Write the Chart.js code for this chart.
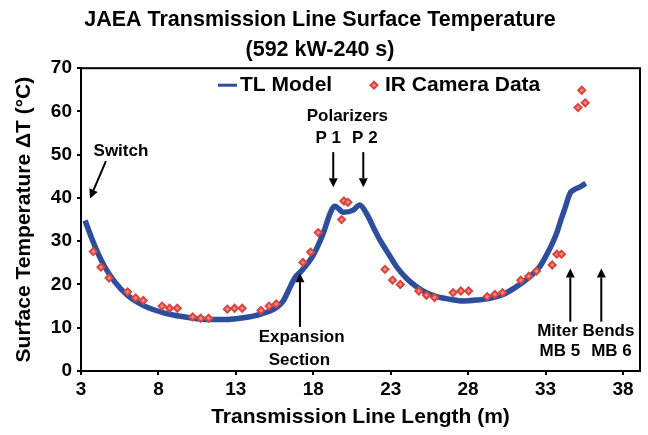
<!DOCTYPE html>
<html>
<head>
<meta charset="utf-8">
<script src="https://cdn.jsdelivr.net/npm/chart.js@4/dist/chart.umd.min.js"></script>
<style>
html,body{margin:0;padding:0;background:#fff;}
#wrap{width:648px;height:435px;}
</style>
</head>
<body>
<div id="wrap"><canvas id="c" width="648" height="435"></canvas></div>
<script>
// ---- data ----
const titleLines = ['JAEA Transmission Line Surface Temperature', '(592 kW-240 s)'];
const xAxisTitle = 'Transmission Line Length (m)';
const yAxisTitle = 'Surface Temperature \u0394T (\u00B0C)';
const xTickValues = [3, 8, 13, 18, 23, 28, 33, 38];
const yTickValues = [0, 10, 20, 30, 40, 50, 60, 70];

const tlLabel = 'TL Model';
const tlX = [3.26,3.66,4.1,4.53,5.18,6.03,7.11,8.4,9.5,10.5,11.5,12.4,13.48,14.56,15.63,16.06,16.49,16.82,17.25,18.0,18.64,19.18,19.4,19.61,19.93,20.58,21.0,21.44,21.87,22.3,22.84,23.38,24.03,24.67,25.31,25.96,26.82,27.68,28.54,29.4,30.26,31.13,31.99,32.6,33.06,33.4,33.71,34.0,34.25,34.57,34.89,35.2,35.6];
const tlY = [34.8,31.0,27.2,24.1,20.6,17.4,15.0,13.4,12.6,12.1,11.9,11.9,12.3,13.1,14.7,16.2,19.3,21.6,23.2,26.8,31.8,37.2,38.1,37.6,36.7,37.2,38.4,36.4,33.3,30.3,27.2,24.1,21.4,19.5,18.1,17.2,16.6,16.2,16.4,16.8,17.7,19.5,21.8,24.0,26.8,29.2,31.8,35.0,37.6,41.0,42.0,42.5,43.4];

const irLabel = 'IR Camera Data';
const irX = [3.79,4.29,4.81,6.01,6.53,7.02,8.23,8.72,9.22,10.21,10.73,11.24,12.45,12.92,13.41,14.62,15.14,15.61,17.33,17.83,18.32,19.83,19.98,20.24,22.63,23.12,23.62,24.82,25.31,25.83,27.03,27.53,28.03,29.23,29.73,30.22,31.4,31.92,32.42,33.43,33.73,34.03,35.1,35.34,35.56];
const irY = [27.6,24.0,21.5,18.3,16.9,16.3,15.0,14.5,14.5,12.5,12.2,12.2,14.3,14.5,14.5,14.0,15.0,15.5,25.1,27.5,32.0,35.0,39.3,39.0,23.5,21.0,20.0,18.5,17.5,17.0,18.1,18.5,18.5,17.2,17.7,18.1,21.0,21.9,23.1,24.5,27.0,27.0,60.9,64.9,62.0];

// annotation labels (data coordinates)
const noteText = ['Switch','Polarizers','P 1','P 2','Expansion','Section','Miter Bends','MB 5','MB 6'];
const noteX    = [5.58, 20.2, 18.97, 21.33, 17.25, 17.1, 35.6, 33.92, 37.26];
const noteY    = [50.9, 58.9, 53.9, 53.9, 7.7, 2.5, 9.1, 4.5, 4.5];
// arrows: tail -> tip (data coordinates)
const arrowX0 = [4.61, 19.29, 21.23, 17.14, 34.6, 36.6];
const arrowY0 = [48.5, 50.6, 50.6, 10.2, 11.4, 11.4];
const arrowX1 = [3.58, 19.29, 21.23, 17.14, 34.6, 36.6];
const arrowY1 = [39.9, 42.5, 42.5, 22.6, 23.7, 23.7];

// ---- styles ----
const FONT = '"Liberation Sans", Arial, sans-serif';
const BLUE = '#2d4e9c';
const RED = '#d9453e';

const toXY = (xs, ys) => xs.map((x, i) => ({x: x, y: ys[i]}));

const overlay = {
  id: 'overlay',
  afterDatasetsDraw(chart) {
    const {ctx, chartArea: a, scales: {x, y}} = chart;
    ctx.save();
    // frame
    ctx.strokeStyle = '#000';
    ctx.lineWidth = 2;
    ctx.strokeRect(a.left, a.top, a.right - a.left, a.bottom - a.top);
    // annotation texts
    ctx.fillStyle = '#000';
    ctx.font = 'bold 17px ' + FONT;
    ctx.textAlign = 'center';
    ctx.textBaseline = 'middle';
    noteText.forEach((t, i) => ctx.fillText(t, x.getPixelForValue(noteX[i]), y.getPixelForValue(noteY[i])));
    // arrows
    ctx.lineWidth = 2;
    arrowX0.forEach((_, i) => {
      const x0 = x.getPixelForValue(arrowX0[i]), y0 = y.getPixelForValue(arrowY0[i]);
      const x1 = x.getPixelForValue(arrowX1[i]), y1 = y.getPixelForValue(arrowY1[i]);
      const ang = Math.atan2(y1 - y0, x1 - x0);
      const hl = 9, hw = 4.5;
      const bx = x1 - hl * Math.cos(ang), by = y1 - hl * Math.sin(ang);
      ctx.beginPath();
      ctx.moveTo(x0, y0);
      ctx.lineTo(bx, by);
      ctx.stroke();
      ctx.beginPath();
      ctx.moveTo(x1, y1);
      ctx.lineTo(bx + hw * Math.sin(ang), by - hw * Math.cos(ang));
      ctx.lineTo(bx - hw * Math.sin(ang), by + hw * Math.cos(ang));
      ctx.closePath();
      ctx.fill();
    });
    // legend
    const ly = a.top + 17;
    const lx = a.left + 137;
    ctx.strokeStyle = BLUE;
    ctx.lineWidth = 3;
    ctx.beginPath();
    ctx.moveTo(lx, ly);
    ctx.lineTo(lx + 19, ly);
    ctx.stroke();
    ctx.font = 'bold 21px ' + FONT;
    ctx.textAlign = 'left';
    ctx.fillStyle = '#000';
    ctx.fillText(chart.data.datasets[0].label, lx + 22, ly);
    const dx = a.left + 293;
    ctx.fillStyle = '#ef8a84';
    ctx.strokeStyle = RED;
    ctx.lineWidth = 2;
    ctx.beginPath();
    ctx.moveTo(dx, ly - 3.5); ctx.lineTo(dx + 3.5, ly); ctx.lineTo(dx, ly + 3.5); ctx.lineTo(dx - 3.5, ly); ctx.closePath();
    ctx.fill(); ctx.stroke();
    ctx.fillStyle = '#000';
    ctx.fillText(chart.data.datasets[1].label, a.left + 304, ly);
    ctx.restore();
  }
};

new Chart(document.getElementById('c'), {
  type: 'scatter',
  data: {
    datasets: [
      {
        label: tlLabel,
        type: 'line',
        data: toXY(tlX, tlY),
        borderColor: BLUE,
        borderWidth: 5.5,
        pointRadius: 0,
        cubicInterpolationMode: 'monotone',
        fill: false,
        order: 2
      },
      {
        label: irLabel,
        data: toXY(irX, irY),
        pointStyle: 'rectRot',
        pointRadius: 3.5,
        pointBackgroundColor: '#ef8a84',
        pointBorderColor: RED,
        pointBorderWidth: 2,
        order: 1
      }
    ]
  },
  options: {
    responsive: false,
    animation: false,
    devicePixelRatio: 1,
    layout: {padding: {left: 0, right: 8, top: 0, bottom: 0}},
    plugins: {
      legend: {display: false},
      tooltip: {enabled: false},
      title: {
        display: true,
        text: titleLines,
        color: '#000',
        font: {family: FONT, size: 21.5, weight: 'bold', lineHeight: 1.4},
        padding: {top: 5, bottom: 3}
      }
    },
    scales: {
      x: {
        type: 'linear',
        min: 3,
        max: 39.1,
        afterFit: s => { s.height = 64; },
        afterBuildTicks: s => { s.ticks = xTickValues.map(v => ({value: v})); },
        grid: {display: true, drawOnChartArea: false, drawTicks: true, tickLength: 4, color: '#000', lineWidth: 2},
        border: {display: true, color: '#000', width: 2},
        ticks: {color: '#000', font: {family: FONT, size: 19, weight: 'bold'}, padding: 3, maxRotation: 0, autoSkip: false},
        title: {display: true, text: xAxisTitle, color: '#000', font: {family: FONT, size: 21, weight: 'bold'}, padding: {top: 0, bottom: 5}}
      },
      y: {
        type: 'linear',
        min: 0,
        max: 70,
        afterFit: s => { s.width = 81; },
        afterBuildTicks: s => { s.ticks = yTickValues.map(v => ({value: v})); },
        grid: {display: true, drawOnChartArea: false, drawTicks: true, tickLength: 4, color: '#000', lineWidth: 2},
        border: {display: true, color: '#000', width: 2},
        ticks: {color: '#000', font: {family: FONT, size: 19, weight: 'bold'}, padding: 5},
        title: {display: true, text: yAxisTitle, color: '#000', font: {family: FONT, size: 21, weight: 'bold'}, padding: {top: 12, bottom: 0}}
      }
    }
  },
  plugins: [overlay]
});
</script>
</body>
</html>
